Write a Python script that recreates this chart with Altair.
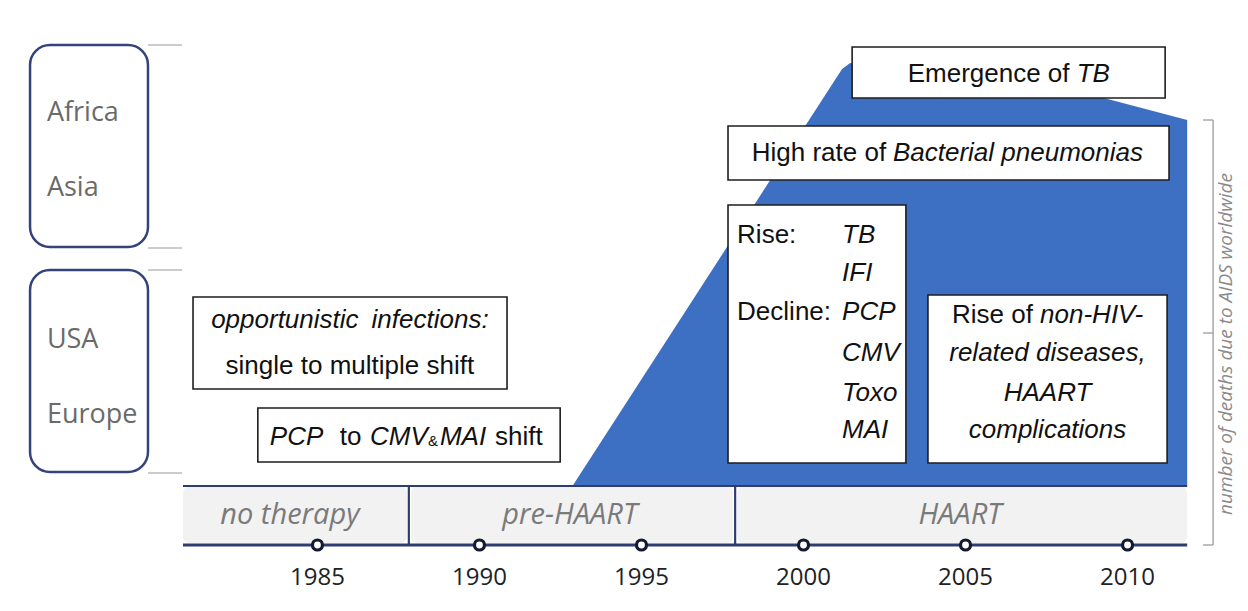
import altair as alt
import pandas as pd

NAVY = "#2e3d6e"
BLUE = "#3d6fc3"
BOX_STROKE = "#1e1e1e"

# ---------------- data ----------------
tick_years = [1985, 1990, 1995, 2000, 2005, 2010]
X_DOMAIN = [1975.45, 2013.47]
Y_DOMAIN = [8, 603]          # vertical level, top of figure = 8

eras = ["no therapy", "pre-HAART", "HAART"]
era_start = [1980.85, 1987.89, 1997.95]
era_end = [1987.76, 1997.82, 2011.84]
era_mid = [1984.15, 1992.79, 2004.83]
era_sep = [1987.82, 1997.89]
timeline_start, timeline_end = 1980.85, 2011.84

death_year = [1992.89, 2000.97, 2001.19, 2001.44, 2009.15, 2011.84]
death_top = [485, 80, 69, 63, 97, 120]
death_base = 485

region_labels = ["Africa", "Asia", "USA", "Europe"]
region_label_y = [113, 188, 340, 415]
region_top = [45, 270]
region_bottom = [247, 472]
region_x0, region_x1 = 1976.13, 1979.77
region_line_y = [45, 248, 270, 473]
region_line_x1 = 1980.82

box_x0 = [1981.16, 1983.16, 2001.50, 1997.67, 1997.67, 2003.84]
box_x1 = [1990.85, 1992.49, 2011.16, 2011.28, 2003.16, 2011.22]
box_y0 = [297, 408, 47, 126, 205, 295]
box_y1 = [389, 462, 98, 180, 463, 463]

# (text, year, level, italic, align)
box_texts = [
    ("opportunistic\u2002infections:", 1986.00, 320, True, "center"),
    ("single to multiple shift", 1986.00, 366, False, "center"),
    ("PCP", 1983.53, 437, True, "left"),
    ("to", 1985.69, 437, False, "left"),
    ("CMV", 1986.62, 437, True, "left"),
    ("MAI", 1988.78, 437, True, "left"),
    ("shift", 1990.48, 437, False, "left"),
    ("Emergence of", 2008.21, 74, False, "right"),
    ("TB", 2008.43, 74, True, "left"),
    ("High rate of", 2002.55, 153, False, "right"),
    ("Bacterial pneumonias", 2002.76, 153, True, "left"),
    ("Rise:", 1997.95, 235, False, "left"),
    ("TB", 2001.19, 235, True, "left"),
    ("IFI", 2001.19, 273, True, "left"),
    ("Decline:", 1997.95, 312, False, "left"),
    ("PCP", 2001.19, 312, True, "left"),
    ("CMV", 2001.19, 353, True, "left"),
    ("Toxo", 2001.19, 393, True, "left"),
    ("MAI", 2001.19, 430, True, "left"),
    ("Rise of", 2007.08, 315, False, "right"),
    ("non-HIV-", 2007.30, 315, True, "left"),
    ("related diseases,", 2007.53, 353, True, "center"),
    ("HAART", 2007.53, 393, True, "center"),
    ("complications", 2007.53, 430, True, "center"),
]
amp_text, amp_x, amp_y = "&", 1988.41, 441

axis_level = 545
band_top, band_bottom = 487, 543
year_label_level = 578
era_label_level = 515

bracket_x, bracket_tick_x0 = 2012.64, 2012.33
bracket_top, bracket_mid, bracket_bottom = 120, 333, 545
side_title = "number of deaths due to AIDS worldwide"
side_title_x, side_title_y = 2013.04, 344

# ---------------- helpers ----------------
xs = alt.Scale(domain=X_DOMAIN, nice=False, zero=False)
ys = alt.Scale(domain=Y_DOMAIN, nice=False, zero=False, reverse=True)


def X(f):
    return alt.X(f, type="quantitative", scale=xs, axis=None)


def Y(f):
    return alt.Y(f, type="quantitative", scale=ys, axis=None)


layers = []

# blue deaths area
df_area = pd.DataFrame({"year": death_year, "top": death_top, "base": death_base})
layers.append(
    alt.Chart(df_area).mark_area(color=BLUE, interpolate="linear").encode(
        x=X("year"), y=Y("top"), y2="base"
    )
)

# era band
df_era = pd.DataFrame({"era": eras, "x0": era_start, "x1": era_end, "mid": era_mid,
                       "y0": band_top, "y1": band_bottom, "ly": era_label_level})
layers.append(
    alt.Chart(df_era).mark_rect(fill="#f2f2f2", cornerRadius=6).encode(
        x=X("x0"), x2="x1", y=Y("y0"), y2="y1"
    )
)
layers.append(
    alt.Chart(df_era).mark_text(font="Open Sans", fontStyle="italic", fontSize=29,
                                color="#7a7a7a", baseline="middle", align="center").encode(
        x=X("mid"), y=Y("ly"), text="era"
    )
)

# timeline lines
df_hl = pd.DataFrame({"x0": [timeline_start, timeline_start], "x1": [timeline_end, timeline_end],
                      "y": [band_top - 1, axis_level], "w": [2, 3]})
layers.append(
    alt.Chart(df_hl).mark_rule(color=NAVY).encode(
        x=X("x0"), x2="x1", y=Y("y"),
        strokeWidth=alt.StrokeWidth("w:Q", scale=None, legend=None)
    )
)
df_sep = pd.DataFrame({"x": era_sep, "y0": band_top - 1, "y1": axis_level})
layers.append(
    alt.Chart(df_sep).mark_rule(color=NAVY, strokeWidth=2.2).encode(
        x=X("x"), y=Y("y0"), y2="y1"
    )
)

# tick circles and year labels
df_ticks = pd.DataFrame({"year": tick_years, "y": axis_level, "ly": year_label_level,
                         "label": [str(v) for v in tick_years]})
layers.append(
    alt.Chart(df_ticks).mark_point(shape="circle", size=100, filled=True, fill="white",
                                   stroke="#141a30", strokeWidth=3.2, opacity=1).encode(
        x=X("year"), y=Y("y")
    )
)
layers.append(
    alt.Chart(df_ticks).mark_text(font="Open Sans", fontSize=24, color="#222222",
                                  baseline="middle", align="center").encode(
        x=X("year"), y=Y("ly"), text="label"
    )
)

# region boxes
df_reg = pd.DataFrame({"x0": region_x0, "x1": region_x1, "y0": region_top, "y1": region_bottom})
layers.append(
    alt.Chart(df_reg).mark_rect(fill="white", stroke="#34447a", strokeWidth=2.5,
                                cornerRadius=20).encode(
        x=X("x0"), x2="x1", y=Y("y0"), y2="y1"
    )
)
df_regl = pd.DataFrame({"x0": region_x1, "x1": region_line_x1, "y": region_line_y})
layers.append(
    alt.Chart(df_regl).mark_rule(color="#9a9a9a", strokeWidth=1.2).encode(
        x=X("x0"), x2="x1", y=Y("y")
    )
)
df_regt = pd.DataFrame({"label": region_labels, "x": region_x0 + 0.52, "y": region_label_y})
layers.append(
    alt.Chart(df_regt).mark_text(font="Open Sans", fontSize=27, color="#6a6a6a",
                                 baseline="middle", align="left").encode(
        x=X("x"), y=Y("y"), text="label"
    )
)

# text boxes
df_box = pd.DataFrame({"x0": box_x0, "x1": box_x1, "y0": box_y0, "y1": box_y1})
layers.append(
    alt.Chart(df_box).mark_rect(fill="white", stroke=BOX_STROKE, strokeWidth=1.6).encode(
        x=X("x0"), x2="x1", y=Y("y0"), y2="y1"
    )
)

df_bt = pd.DataFrame(box_texts, columns=["text", "x", "y", "italic", "align"])
for italic in (False, True):
    for align in ("left", "center", "right"):
        sub = df_bt[(df_bt["italic"] == italic) & (df_bt["align"] == align)]
        if len(sub) == 0:
            continue
        layers.append(
            alt.Chart(sub).mark_text(font="Liberation Sans", fontSize=26, color="#111111",
                                     fontStyle="italic" if italic else "normal",
                                     baseline="middle", align=align).encode(
                x=X("x"), y=Y("y"), text="text"
            )
        )
df_amp = pd.DataFrame({"text": [amp_text], "x": [amp_x], "y": [amp_y]})
layers.append(
    alt.Chart(df_amp).mark_text(font="Liberation Sans", fontSize=15, color="#111111",
                                baseline="middle", align="left").encode(
        x=X("x"), y=Y("y"), text="text"
    )
)

# right bracket + side title
df_br = pd.DataFrame({"x": [bracket_x], "y0": [bracket_top], "y1": [bracket_bottom]})
layers.append(
    alt.Chart(df_br).mark_rule(color="#a8a8a8", strokeWidth=1.5).encode(
        x=X("x"), y=Y("y0"), y2="y1"
    )
)
df_brt = pd.DataFrame({"x0": bracket_tick_x0, "x1": bracket_x,
                       "y": [bracket_top, bracket_mid, bracket_bottom]})
layers.append(
    alt.Chart(df_brt).mark_rule(color="#a8a8a8", strokeWidth=1.5).encode(
        x=X("x0"), x2="x1", y=Y("y")
    )
)
df_side = pd.DataFrame({"text": [side_title], "x": [side_title_x], "y": [side_title_y]})
layers.append(
    alt.Chart(df_side).mark_text(font="Open Sans", fontStyle="italic", fontSize=19,
                                 color="#8a8a8a", angle=270, baseline="middle",
                                 align="center").encode(
        x=X("x"), y=Y("y"), text="text"
    )
)

chart = alt.layer(*layers).properties(
    width=1232, height=595,
    autosize=alt.AutoSizeParams(type="none"),
    padding=0,
    background="white",
).configure_view(stroke=None)

chart.save("out.html", embed_options={"renderer": "svg", "actions": False})
